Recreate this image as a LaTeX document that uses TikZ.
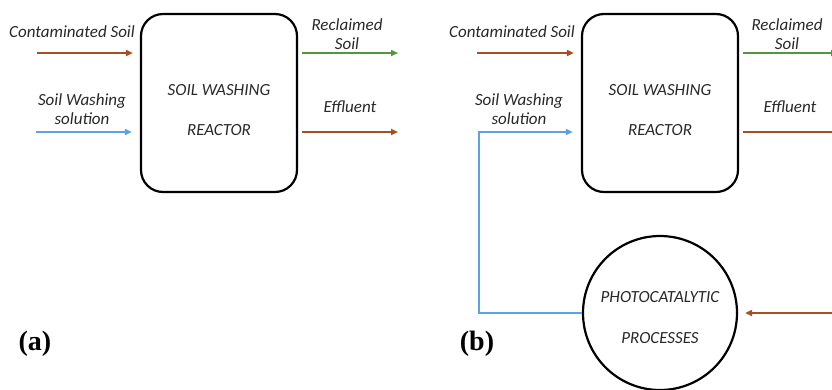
\documentclass[tikz,border=0pt]{standalone}
\usepackage{fontspec}
\setmainfont{Carlito}
\newfontfamily\panelfont{Liberation Serif}
\usepackage{xcolor}
\usetikzlibrary{arrows.meta, positioning, shapes.geometric}
\definecolor{soilbrown}{RGB}{168,78,36}
\definecolor{soilgreen}{RGB}{84,150,60}
\definecolor{washblue}{RGB}{92,162,228}
\definecolor{inktext}{RGB}{40,40,40}
\tikzset{
  reactor/.style={draw, line width=2.2pt, rounded corners=22pt, minimum width=156pt, minimum height=178pt},
  photo/.style={draw, circle, line width=2.2pt, minimum size=154pt},
  flow/.style={line width=2pt, -{Triangle[length=7pt,width=6pt]}},
  lbl/.style={font=\fontsize{17}{19}\selectfont\itshape, text=inktext, align=center, inner sep=0pt},
  panel/.style={font=\fontsize{28}{30}\selectfont\panelfont\bfseries, inner sep=0pt}
}

\begin{document}
\begin{tikzpicture}[x=1pt,y=-1pt]
\useasboundingbox (0,0) rectangle (832,389);
\clip (0,0) rectangle (832,389);
% panel (a)
\node[reactor] (rA) at (219,103) {};
\node[lbl] (rAtxt) at ([yshift=-7pt]rA.center) {SOIL WASHING\\[21pt]REACTOR};
\coordinate (cA) at (37,53);
\coordinate (wA) at (36,132);
\coordinate (sA) at (398,53);
\coordinate (eA) at (398,132);
\draw[flow,soilbrown,shorten >=7pt] (cA) -- (cA -| rA.west);
\draw[flow,washblue,shorten >=8pt] (wA) -- (wA -| rA.west);
\draw[flow,soilgreen,shorten <=4pt] (sA -| rA.east) -- (sA);
\draw[flow,soilbrown,shorten <=4pt] (eA -| rA.east) -- (eA);
\node[lbl] (csA) at (72,32) {Contaminated Soil};
\node[lbl] (swA) at (82,109) {Soil Washing\\solution};
\node[lbl] (rsA) at (347,34) {Reclaimed\\Soil};
\node[lbl] (efA) at (350,107) {Effluent};
\node[panel] (labA) at (35,344) {(a)};
% panel (b)
\node[reactor] (rB) at (660,103) {};
\node[lbl] (rBtxt) at ([yshift=-7pt]rB.center) {SOIL WASHING\\[21pt]REACTOR};
\node[photo] (pB) at (660,313) {};
\node[lbl] (pBtxt) at ([yshift=-5pt]pB.center) {PHOTOCATALYTIC\\[22pt]PROCESSES};
\coordinate (cB) at (477,53);
\coordinate (wB) at (479,132);
\coordinate (sB) at (838,53);
\coordinate (eB) at (833,132);
\draw[flow,soilbrown,shorten >=7pt] (cB) -- (cB -| rB.west);
\draw[flow,washblue,shorten >=8pt] (pB.west) -| (wB) -- (wB -| rB.west);
\draw[flow,soilgreen,shorten <=4pt] (sB -| rB.east) -- (sB);
\draw[flow,soilbrown,shorten <=4pt,shorten >=7pt] (eB -| rB.east) -- (eB) |- (pB.east);
\node[lbl] (csB) at (512,32) {Contaminated Soil};
\node[lbl] (swB) at (519,109) {Soil Washing\\solution};
\node[lbl] (rsB) at (787,34) {Reclaimed\\Soil};
\node[lbl] (efB) at (790,107) {Effluent};
\node[panel] (labB) at (477,344) {(b)};
\end{tikzpicture}
\end{document}
